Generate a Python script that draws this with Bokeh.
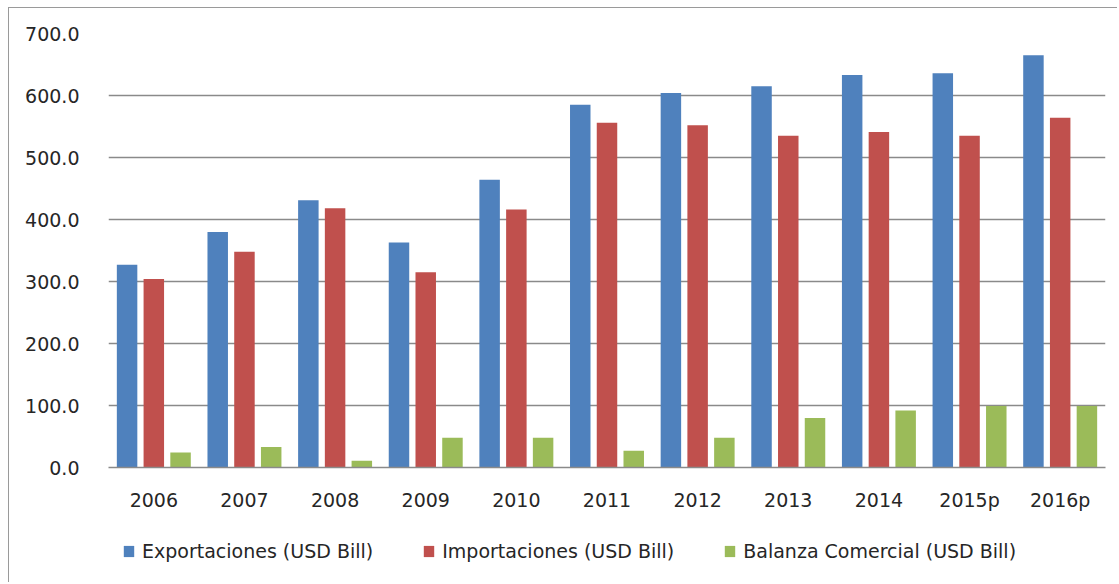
from bokeh.plotting import figure
from bokeh.models import ColumnDataSource, FactorRange, Range1d, FixedTicker, NumeralTickFormatter
from bokeh.layouts import column
from bokeh.transform import dodge
from bokeh.embed import file_html
from bokeh.resources import INLINE

categories = ["2006", "2007", "2008", "2009", "2010", "2011", "2012", "2013", "2014", "2015p", "2016p"]
exportaciones = [327, 380, 431, 363, 464, 585, 604, 615, 633, 636, 665]
importaciones = [304, 348, 418, 315, 416, 556, 552, 535, 541, 535, 564]
balanza = [24, 33, 11, 48, 48, 27, 48, 80, 92, 99, 99]
series_labels = ["Exportaciones (USD Bill)", "Importaciones (USD Bill)", "Balanza Comercial (USD Bill)"]
series_colors = ["#4F81BD", "#C0504D", "#9BBB59"]
y_ticks = [0, 100, 200, 300, 400, 500, 600, 700]

src = ColumnDataSource(dict(cat=categories, exp=exportaciones, imp=importaciones, bal=balanza))

FONT = "DejaVu Sans"
TXT = "#262626"
GRID = "#8a8a8a"

xr = FactorRange(*categories, range_padding=0)
p = figure(
    x_range=xr,
    y_range=Range1d(0, 700),
    frame_width=997, frame_height=434,
    output_backend="svg", toolbar_location=None,
    min_border_left=99, min_border_right=12, min_border_top=25, min_border_bottom=60,
)
p.outline_line_color = None
p.background_fill_color = "white"
p.border_fill_color = "white"

W = 0.226
OFF = 0.295
for col_name, off, color in zip(["exp", "imp", "bal"], [-OFF, 0.0, OFF], series_colors):
    p.vbar(x=dodge("cat", off, range=xr), top=col_name, width=W, source=src,
           fill_color=color, line_color=None)

p.xgrid.grid_line_color = None
p.ygrid.grid_line_color = GRID
p.ygrid.grid_line_width = 1.5
p.ygrid.ticker = FixedTicker(ticks=y_ticks)

p.yaxis.ticker = FixedTicker(ticks=y_ticks)
p.yaxis.formatter = NumeralTickFormatter(format="0.0")
p.yaxis.axis_line_color = None
p.yaxis.major_tick_line_color = None
p.yaxis.minor_tick_line_color = None
p.yaxis.major_tick_out = 0
p.yaxis.major_label_standoff = 29

p.xaxis.axis_line_color = GRID
p.xaxis.axis_line_width = 1.5
p.xaxis.major_tick_line_color = None
p.xaxis.minor_tick_line_color = None
p.xaxis.major_tick_out = 0
p.xaxis.major_label_standoff = 21

for ax in (p.xaxis, p.yaxis):
    ax.major_label_text_font = FONT
    ax.major_label_text_font_size = "19px"
    ax.major_label_text_color = TXT

# legend strip below the chart (zero-height proxy bars carry the legend entries)
q = figure(width=1108, height=55, x_range=xr, y_range=Range1d(0, 1),
           output_backend="svg", toolbar_location=None,
           x_axis_type=None, y_axis_type=None,
           min_border_left=0, min_border_right=0, min_border_top=0, min_border_bottom=0)
q.grid.visible = False
q.outline_line_color = None
q.background_fill_color = "white"
q.border_fill_color = "white"
for label, color in zip(series_labels, series_colors):
    q.vbar(x="cat", top=0, bottom=0, width=W, source=src,
           fill_color=color, line_color=None, legend_label=label)

lg = q.legend[0]
lg.orientation = "horizontal"
lg.border_line_color = None
lg.background_fill_alpha = 0
lg.padding = 0
lg.margin = 0
lg.location = (14, 20)
lg.spacing = 49
lg.glyph_width = 13
lg.glyph_height = 14
lg.label_height = 14
lg.label_standoff = 7
lg.label_text_font = FONT
lg.label_text_font_size = "19px"
lg.label_text_color = TXT

layout = column(p, q, spacing=0)
layout.styles = {"margin-left": "8px", "margin-top": "7px",
                 "border-left": "1px solid #9a9a9a", "border-top": "1px solid #9a9a9a"}

open("out.html", "w").write(file_html(layout, INLINE))
